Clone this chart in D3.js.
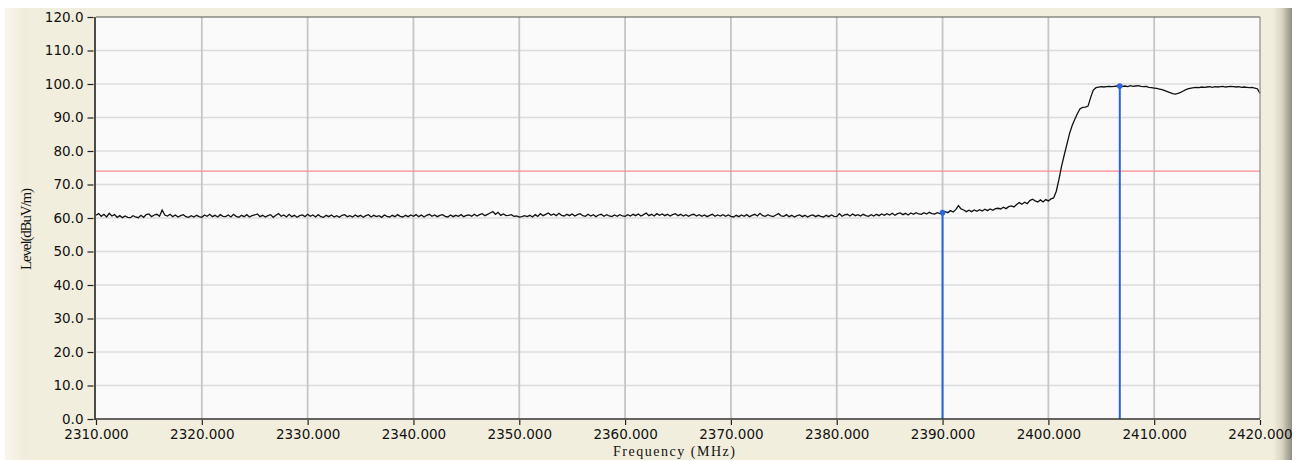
<!DOCTYPE html>
<html>
<head>
<meta charset="utf-8">
<script src="https://cdn.jsdelivr.net/npm/d3@7"></script>
<style>
html,body{margin:0;padding:0;background:#fff;}
svg{display:block;}
</style>
</head>
<body>
<svg id="chart" width="1302" height="461"></svg>
<script>
// ---------- data ----------
const xTicks = [2310,2320,2330,2340,2350,2360,2370,2380,2390,2400,2410,2420];
const yTicks = [0,10,20,30,40,50,60,70,80,90,100,110,120];
const sweepStart = 2310;      // MHz, first sweep point
const sweepStep = 0.25;       // MHz between sweep points
const levels = [
// 2310-2320
60.8,61.3,60.5,61.1,60.3,61.4,60.6,61.0,60.2,60.7, 60.1,60.6,60.2,60.1,60.7,60.3,60.1,60.8,60.2,61.0,
61.2,60.4,60.9,61.1,60.5,62.4,60.9,60.6,61.1,60.4, 60.9,60.3,60.7,61.0,60.4,60.2,60.7,60.3,60.8,60.4,
// 2320-2330
60.2,60.9,60.5,61.1,60.4,60.8,60.3,61.0,60.5,60.4, 60.9,60.3,61.1,60.5,60.2,60.8,60.4,61.0,60.3,60.7,
60.9,61.2,60.4,60.8,60.3,60.7,61.0,60.2,60.8,61.3, 60.5,60.9,60.3,61.1,60.4,60.8,60.2,60.7,60.9,60.4,
// 2330-2340
61.1,60.5,60.9,60.3,61.0,60.4,60.2,60.8,60.4,60.9, 60.3,60.7,60.2,60.8,61.0,60.4,60.7,60.3,60.9,60.4,
60.8,60.2,60.7,61.0,60.3,60.8,60.4,60.7,60.2,60.9, 60.5,60.3,60.8,60.4,61.0,60.5,60.3,60.8,60.4,60.9,
// 2340-2350
60.5,61.0,60.4,60.9,60.3,60.8,61.1,60.5,60.9,60.4, 60.8,61.0,60.5,60.3,60.9,60.4,60.8,60.5,61.0,60.4,
60.8,60.9,60.5,61.1,60.6,61.0,61.3,60.7,61.1,61.5, 61.9,61.1,61.7,60.8,61.2,60.7,60.8,61.0,60.5,60.6,
// 2350-2360
60.3,60.4,60.7,60.4,60.8,60.3,61.0,60.5,61.3,60.7, 61.1,61.5,60.8,61.2,60.7,61.4,60.8,60.6,61.1,60.7,
61.2,60.6,61.0,61.3,60.7,60.5,61.1,60.6,61.0,60.4, 60.9,61.1,60.5,61.0,60.6,60.4,60.9,60.5,61.0,60.6,
// 2360-2370
60.5,61.0,60.6,61.1,60.7,61.2,60.6,61.0,61.5,60.7, 61.1,60.6,61.3,60.8,61.2,60.7,61.1,60.6,61.0,61.3,
60.7,61.1,60.6,61.0,60.5,60.9,61.1,60.6,61.0,60.5, 60.9,60.4,60.8,61.1,60.5,60.9,60.6,61.0,60.5,60.9,
// 2370-2380
60.5,60.3,60.8,60.4,60.9,60.5,61.0,60.4,60.8,61.1, 60.6,61.4,60.7,60.5,61.0,60.6,60.4,60.9,61.3,60.6,
60.5,61.0,60.4,60.8,60.3,60.7,60.9,60.4,60.8,60.3, 60.7,60.9,60.4,60.8,60.5,60.3,60.8,60.4,60.9,60.5,
// 2380-2390
60.4,61.3,60.5,60.9,61.1,60.6,61.2,60.7,61.0,60.6, 61.1,60.7,60.5,61.0,60.6,61.1,60.7,61.2,60.8,61.3,
60.9,61.4,60.8,61.3,61.5,61.0,61.4,60.9,61.5,61.1, 61.6,61.2,61.1,61.6,61.2,61.7,61.3,61.2,61.6,61.3,
// 2390-2400
61.6,61.9,61.6,62.2,61.8,62.5,63.7,62.7,62.4,61.9, 62.3,61.9,62.4,62.0,62.5,62.1,62.6,62.2,62.7,62.3,
62.8,62.9,62.7,63.2,62.8,63.4,63.6,63.3,64.0,64.6, 64.1,64.7,64.3,65.2,65.6,65.1,64.8,65.4,64.8,65.5,
// 2400-2410
65.1,65.7,66.0,68.0,71.5,75.5,78.8,82.0,85.2,87.6, 89.5,91.2,92.6,93.0,93.1,93.4,96.0,98.2,98.9,99.1,
99.2,99.1,99.2,99.3,99.2,99.3,99.4,99.4,99.3,99.4, 99.2,99.5,99.3,99.4,99.5,99.3,99.2,99.3,99.0,98.9,
// 2410-2420
98.8,98.7,98.5,98.3,98.0,97.7,97.4,97.1,97.0,97.2, 97.5,97.9,98.3,98.6,98.8,98.9,99.0,98.9,99.1,99.0,
99.1,99.2,99.0,99.2,99.1,99.2,99.3,99.1,99.2,99.3, 99.2,99.1,99.2,99.0,99.1,99.0,98.9,99.0,98.8,98.6,
97.2
];
const limitLevel = 74;
const markerFreqs = [2390, 2406.75];
const markerLevels = [61.6, 99.4];

// ---------- layout ----------
const svg = d3.select("#chart");
const L = 96, R = 1260, T = 17, B = 419;
const x = d3.scaleLinear().domain([2310, 2420]).range([L, R]);
const y = d3.scaleLinear().domain([0, 120]).range([B, T]);

// outer panel
const defs = svg.append("defs");
const gl = defs.append("linearGradient").attr("id","lgrad").attr("x1","0").attr("x2","1");
gl.append("stop").attr("offset","0").attr("stop-color","#f8f6ec");
gl.append("stop").attr("offset","1").attr("stop-color","#f0ecdb");
const gr = defs.append("linearGradient").attr("id","rgrad").attr("x1","0").attr("x2","1");
gr.append("stop").attr("offset","0").attr("stop-color","#efebda");
gr.append("stop").attr("offset","0.45").attr("stop-color","#d8d4c2");
gr.append("stop").attr("offset","1").attr("stop-color","#8e8c84");

svg.append("rect").attr("x",5).attr("y",8).attr("width",1287).attr("height",452).attr("fill","#f1eedd");
svg.append("rect").attr("x",5).attr("y",8).attr("width",22).attr("height",452).attr("fill","url(#lgrad)");
svg.append("rect").attr("x",1274).attr("y",8).attr("width",18).attr("height",452).attr("fill","url(#rgrad)");

// plot area
svg.append("rect").attr("x",L).attr("y",T).attr("width",R-L).attr("height",B-T).attr("fill","#fafafa");

// grid
svg.append("g").selectAll("line").data(yTicks.filter(v => v > 0 && v < 120)).join("line")
  .attr("x1",L).attr("x2",R).attr("y1",d=>y(d)).attr("y2",d=>y(d))
  .attr("stroke","#dcdcdc").attr("stroke-width",1.6);
svg.append("g").selectAll("line").data(xTicks.filter(v => v > 2310 && v < 2420)).join("line")
  .attr("x1",d=>x(d)).attr("x2",d=>x(d)).attr("y1",T).attr("y2",B)
  .attr("stroke","#c6c6c6").attr("stroke-width",1.8);

// limit line
svg.append("line").attr("x1",L).attr("x2",R).attr("y1",y(limitLevel)).attr("y2",y(limitLevel))
  .attr("stroke","#ff8a8a").attr("stroke-width",1.4);

// markers (lines)
const blue = "#2b63e0";
svg.append("g").selectAll("line").data(markerFreqs).join("line")
  .attr("x1",d=>x(d)).attr("x2",d=>x(d)).attr("y1",B).attr("y2",(d,i)=>y(markerLevels[i]))
  .attr("stroke",blue).attr("stroke-width",2);

// trace
const pts = levels.map((v,i) => [sweepStart + i*sweepStep, v]);
const line = d3.line().x(d=>x(d[0])).y(d=>y(d[1]));
svg.append("path").datum(pts).attr("d",line).attr("fill","none")
  .attr("stroke","#111").attr("stroke-width",1.3).attr("stroke-linejoin","miter");

// marker dots
svg.append("g").selectAll("circle").data(markerFreqs).join("circle")
  .attr("cx",d=>x(d)).attr("cy",(d,i)=>y(markerLevels[i])).attr("r",2.8)
  .attr("fill",blue);

// borders
svg.append("line").attr("x1",L).attr("x2",R).attr("y1",T).attr("y2",T).attr("stroke","#555").attr("stroke-width",1.2);
svg.append("line").attr("x1",R).attr("x2",R).attr("y1",T).attr("y2",B).attr("stroke","#8a8a8a").attr("stroke-width",1.2);

// y axis
const yAxis = d3.axisLeft(y).tickValues(yTicks).tickSize(6).tickPadding(4).tickFormat(d3.format(".1f"));
const gy = svg.append("g").attr("transform",`translate(${L-2.5},0)`).call(yAxis);
gy.select(".domain").remove();
gy.selectAll(".tick line").attr("stroke","#222").attr("stroke-width",1.2);
gy.selectAll("text").attr("font-family","'DejaVu Sans', Verdana, sans-serif").attr("font-size","13.5px").attr("fill","#111");
svg.append("line").attr("x1",L-1).attr("x2",L-1).attr("y1",T).attr("y2",B+1).attr("stroke","#222").attr("stroke-width",1.6);

// x axis
const xAxis = d3.axisBottom(x).tickValues(xTicks).tickSize(5).tickPadding(4).tickFormat(d3.format(".3f"));
const gx = svg.append("g").attr("transform",`translate(0,${B+1})`).call(xAxis);
gx.select(".domain").remove();
gx.selectAll(".tick line").attr("stroke","#222").attr("stroke-width",1.2);
gx.selectAll("text").attr("font-family","'DejaVu Sans', Verdana, sans-serif").attr("font-size","13.5px").attr("fill","#111");
svg.append("line").attr("x1",L-1).attr("x2",R).attr("y1",B).attr("y2",B).attr("stroke","#333").attr("stroke-width",1.6);

// axis titles
svg.append("text").attr("x",(L+R)/2-4).attr("y",456).attr("text-anchor","middle")
  .attr("font-family","'Liberation Serif', 'Times New Roman', serif").attr("font-size","14px").attr("fill","#111")
  .attr("textLength",122).attr("lengthAdjust","spacing").text("Frequency (MHz)");
svg.append("text").attr("transform","translate(31,229) rotate(-90)").attr("text-anchor","middle")
  .attr("font-family","'Liberation Serif', 'Times New Roman', serif").attr("font-size","15px").attr("fill","#111")
  .attr("textLength",82).attr("lengthAdjust","spacing").text("Level(dBuV/m)");
</script>
</body>
</html>
